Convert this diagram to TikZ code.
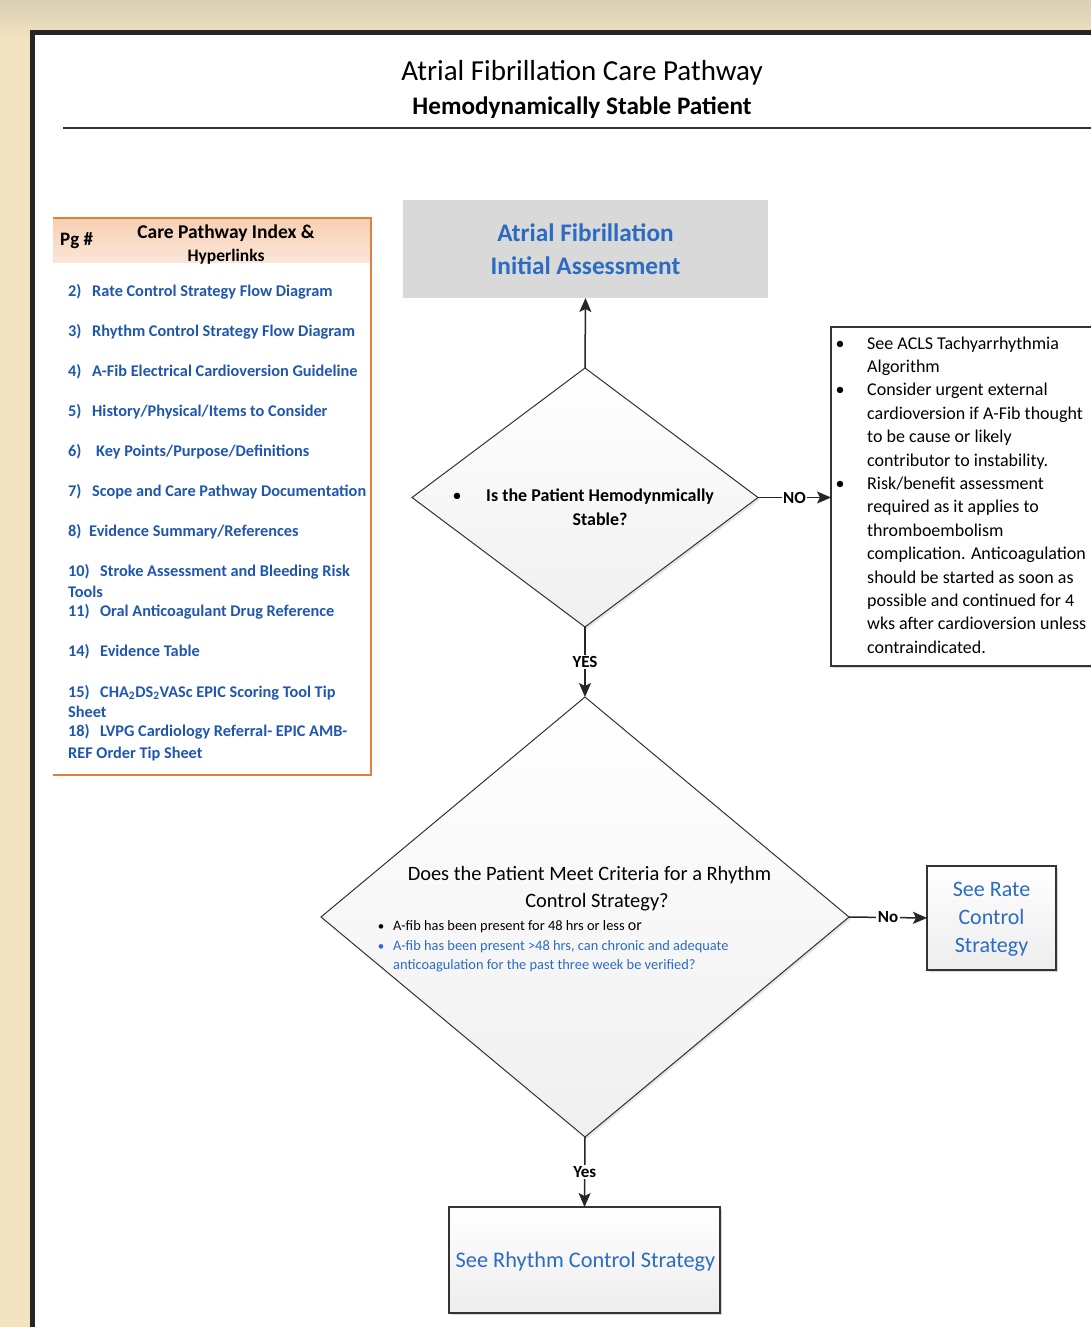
\documentclass[tikz,border=0pt]{standalone}
\usepackage{fontspec}
\setmainfont{Carlito}
\usetikzlibrary{arrows.meta,shapes.geometric,shadows}
\definecolor{bgtan}{HTML}{F2E3C1}
\definecolor{bgtop}{HTML}{D9CFB3}
\definecolor{idxorange}{HTML}{E0803F}
\definecolor{idxhdrA}{HTML}{F7CFB2}
\definecolor{idxhdrB}{HTML}{FBE6D7}
\definecolor{linkblue}{HTML}{1F57AE}
\definecolor{headblue}{HTML}{2B6CC2}
\definecolor{boxgray}{HTML}{D9D9D9}
\newcommand{\fsz}[2]{\fontsize{#1}{#2}\selectfont}
\begin{document}
\begin{tikzpicture}[x=1pt,y=-1pt,
  conn/.style={draw=black!85, line width=1.5pt, -{Stealth[length=14pt,width=12pt,inset=3pt]}},
  lbl/.style={fill=white, inner sep=1.5pt, font=\fsz{17}{18}\bfseries},
  dia/.style={shape=diamond, draw=black!80, line width=1pt, inner sep=0pt, outer sep=0pt,
     top color=white, bottom color=black!6, drop shadow={opacity=0.2, shadow xshift=2pt, shadow yshift=-2pt}},
  endbox/.style={draw=black!80, line width=1.1pt, inner sep=0pt, outer sep=0pt,
     top color=white, bottom color=black!7, drop shadow={opacity=0.3, shadow xshift=2pt, shadow yshift=-2pt}},
  idx/.style={anchor=base west, inner sep=0pt, text=linkblue, font=\fsz{16.3}{21}\bfseries},
  rtxt/.style={anchor=base west, inner sep=0pt, font=\fsz{18}{22}},
  bul/.style={anchor=base, inner sep=0pt},
]
\useasboundingbox (0,0) rectangle (1091,1327);
% background
\fill[bgtan] (0,0) rectangle (1091,1327);
\shade[top color=bgtop, bottom color=bgtan] (0,0) rectangle (1091,40);
% page
\fill[black!85] (30,30) rectangle (1100,1340);
\fill[white] (35,35) rectangle (1100,1340);
% title
\node[anchor=base, inner sep=0pt, font=\fsz{29}{32}] (t1) at (582,81) {Atrial Fibrillation Care Pathway};
\node[anchor=base, inner sep=0pt, font=\fsz{25.2}{28}\bfseries] (t2) at (582,114) {Hemodynamically Stable Patient};
\draw[line width=1.4pt, black!80] (63,128) -- (1095,128);

% index box
\shade[top color=idxhdrA, bottom color=idxhdrB] (53,218) rectangle (371,262);
\draw[idxorange, line width=1.4pt] (53,218) -- (371,218) -- (371,775) -- (53,775);
\node[anchor=base west, inner sep=0pt, font=\fsz{19}{20}\bfseries] (pg) at (60,245) {Pg \#};
\node[anchor=base, inner sep=0pt, font=\fsz{19.5}{20}\bfseries] (ih1) at (226,238) {Care Pathway Index \&};
\node[anchor=base, inner sep=0pt, font=\fsz{17.5}{20}\bfseries] (ih2) at (226,261) {Hyperlinks};
\node[idx] (i2) at (68,296) {\makebox[24pt][l]{2)}Rate Control Strategy Flow Diagram};
\node[idx] (i3) at (68,336) {\makebox[24pt][l]{3)}Rhythm Control Strategy Flow Diagram};
\node[idx] (i4) at (68,376) {\makebox[24pt][l]{4)}A-Fib Electrical Cardioversion Guideline};
\node[idx] (i5) at (68,416) {\makebox[24pt][l]{5)}History/Physical/Items to Consider};
\node[idx] (i6) at (68,456) {\makebox[28pt][l]{6)}Key Points/Purpose/Definitions};
\node[idx] (i7) at (68,496) {\makebox[24pt][l]{7)}Scope and Care Pathway Documentation};
\node[idx] (i8) at (68,536) {\makebox[21pt][l]{8)}Evidence Summary/References};
\node[idx] (i10) at (68,576) {\makebox[32pt][l]{10)}Stroke Assessment and Bleeding Risk};
\node[idx] (i10b) at (68,597) {Tools};
\node[idx] (i11) at (68,616) {\makebox[32pt][l]{11)}Oral Anticoagulant Drug Reference};
\node[idx] (i14) at (68,656) {\makebox[32pt][l]{14)}Evidence Table};
\node[idx] (i15) at (68,697) {\makebox[32pt][l]{15)}CHA\textsubscript{2}DS\textsubscript{2}VASc EPIC Scoring Tool Tip};
\node[idx] (i15b) at (68,717) {Sheet};
\node[idx] (i18) at (68,736) {\makebox[32pt][l]{18)}LVPG Cardiology Referral- EPIC AMB-};
\node[idx] (i18b) at (68,758) {REF Order Tip Sheet};

% initial assessment
\node[fill=boxgray, minimum width=365pt, minimum height=98pt, inner sep=0pt, outer sep=0pt] (init) at (585.5,249) {};
\node[anchor=base, inner sep=0pt, text=headblue, font=\fsz{25.3}{30}\bfseries] (init1) at (585.5,241) {Atrial Fibrillation};
\node[anchor=base, inner sep=0pt, text=headblue, font=\fsz{25.3}{30}\bfseries] (init2) at (585.5,274) {Initial Assessment};

% diamond 1
\node[dia, minimum width=346pt, minimum height=259pt] (d1) at (585,497.5) {};
\node[bul, font=\fsz{18}{20}] (b1) at (457,501) {\textbullet};
\node[anchor=base west, inner sep=0pt, font=\fsz{18}{20}\bfseries] (d1a) at (486,501) {Is the Patient Hemodynmically};
\node[anchor=base, inner sep=0pt, font=\fsz{18}{20}\bfseries] (d1b) at (600,525) {Stable?};

% right box
\node[draw=black!80, line width=1.1pt, fill=white, minimum width=269pt, minimum height=339pt, inner sep=0pt, outer sep=0pt,
  drop shadow={opacity=0.3, shadow xshift=2pt, shadow yshift=-2pt}, anchor=north west] (rbox) at (831,327) {};
\foreach \y in {349,395.8,489.4}{ \node[bul, font=\fsz{18}{20}] at (840,\y) {\textbullet}; }
\node[rtxt] (r1) at (867,349) {See ACLS Tachyarrhythmia};
\node[rtxt] (r2) at (867,372.4) {Algorithm};
\node[rtxt] (r3) at (867,395.8) {Consider urgent external};
\node[rtxt] (r4) at (867,419.2) {cardioversion if A-Fib thought};
\node[rtxt] (r5) at (867,442.6) {to be cause or likely};
\node[rtxt] (r6) at (867,466) {contributor to instability.};
\node[rtxt] (r7) at (867,489.4) {Risk/benefit assessment};
\node[rtxt] (r8) at (867,512.8) {required as it applies to};
\node[rtxt] (r9) at (867,536.2) {thromboembolism};
\node[rtxt] (r10) at (867,559.6) {complication. Anticoagulation};
\node[rtxt] (r11) at (867,583) {should be started as soon as};
\node[rtxt] (r12) at (867,606.4) {possible and continued for 4};
\node[rtxt] (r13) at (867,629.8) {wks after cardioversion unless};
\node[rtxt] (r14) at (867,653.2) {contraindicated.};

% diamond 2
\node[dia, minimum width=528pt, minimum height=440pt] (d2) at (585,917) {};
\node[anchor=base, inner sep=0pt, font=\fsz{20.4}{24}] (d2a) at (589.5,880) {Does the Patient Meet Criteria for a Rhythm};
\node[anchor=base, inner sep=0pt, font=\fsz{20.4}{24}] (d2b) at (597,907) {Control Strategy?};
\node[bul, font=\fsz{13}{14}] at (381,930) {\textbullet};
\node[bul, font=\fsz{13}{14}, text=headblue] at (381,950) {\textbullet};
\node[anchor=base west, inner sep=0pt, font=\fsz{14.4}{15}] (c1) at (393,930) {A-fib has been present for 48 hrs or less \fsz{16}{16}or};
\node[anchor=base west, inner sep=0pt, font=\fsz{14.4}{15}, text=headblue] (c2) at (393,950) {A-fib has been present >48 hrs, can chronic and adequate};
\node[anchor=base west, inner sep=0pt, font=\fsz{14.4}{15}, text=headblue] (c3) at (393,969) {anticoagulation for the past three week be verified?};

% rate box
\node[endbox, minimum width=129pt, minimum height=104pt] (rate) at (991.5,918) {};
\node[anchor=base, inner sep=0pt, text=headblue, font=\fsz{22}{26}] (ra) at (991.5,896) {See Rate};
\node[anchor=base, inner sep=0pt, text=headblue, font=\fsz{22}{26}] (rb) at (991.5,924) {Control};
\node[anchor=base, inner sep=0pt, text=headblue, font=\fsz{22}{26}] (rc) at (991.5,952) {Strategy};

% rhythm box
\node[endbox, minimum width=271pt, minimum height=106pt] (rhy) at (584.5,1260) {};
\node[anchor=base, inner sep=0pt, text=headblue, font=\fsz{22.3}{26}] (rhyt) at (585.5,1267) {See Rhythm Control Strategy};

% connectors
\draw[conn] (d1.north) -- (init.south);
\draw[conn] (d1.east) -- node[lbl] {NO} (rbox.west |- d1.east);
\draw[conn] (d1.south) -- node[lbl] {YES} (d2.north);
\draw[conn] (d2.east) -- node[lbl] {No} (rate.west);
\draw[conn] (d2.south) -- node[lbl] {Yes} (rhy.north);
\end{tikzpicture}
\end{document}
